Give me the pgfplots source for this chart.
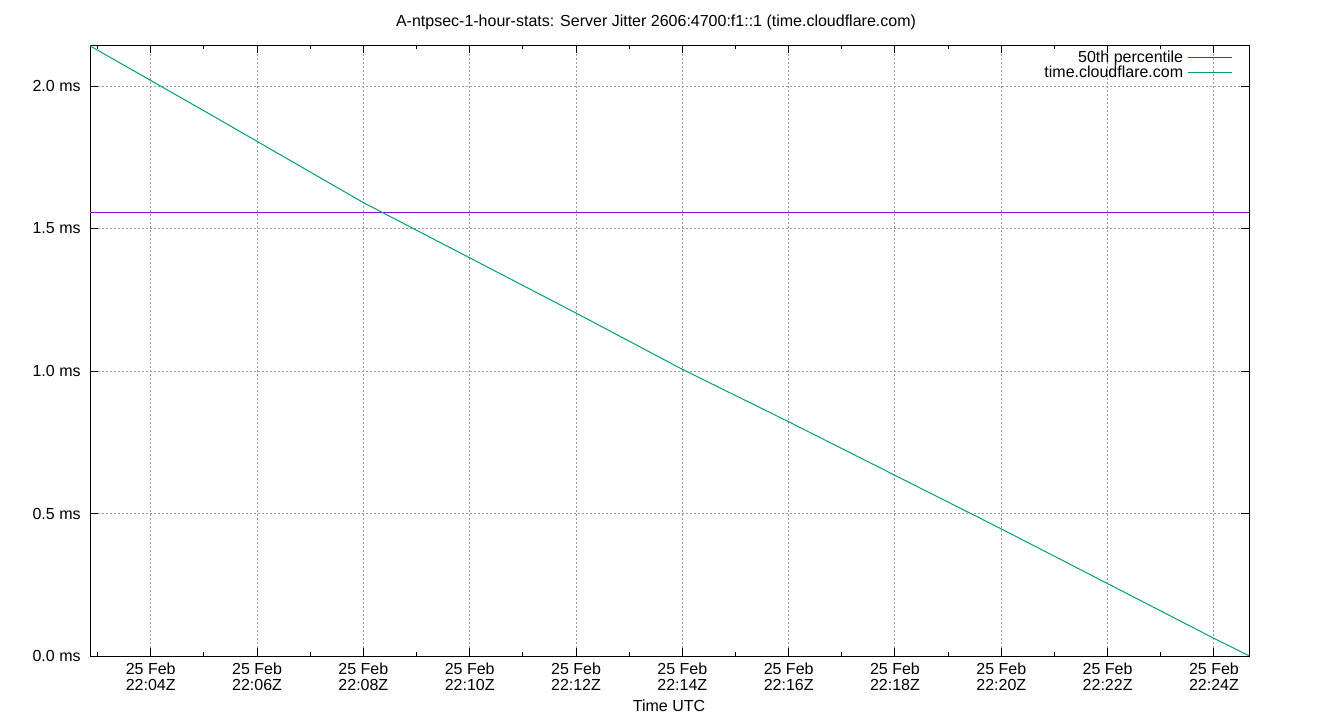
\documentclass[border=0pt]{standalone}
\usepackage{fontspec}
\setmainfont{Liberation Sans}
\usepackage{pgfplots}
\pgfplotsset{compat=1.18}
\definecolor{gpurple}{HTML}{9400D3}
\definecolor{ggreen}{HTML}{009E73}
\begin{document}
\fontsize{8}{8}\selectfont
\begin{tikzpicture}[x=0.5pt,y=0.5pt]
\path (0,0) rectangle (1340,720);
\begin{axis}[
  at={(45pt,32pt)}, anchor=south west,
  scale only axis, width=579.5pt, height=305.5pt,
  xmin=2.858, xmax=24.659, ymin=0, ymax=2.144,
  axis line style={line width=0.5pt, black},
  xtick={4,6,...,24},
  xticklabels={{25 Feb\\22:04Z},{25 Feb\\22:06Z},{25 Feb\\22:08Z},{25 Feb\\22:10Z},{25 Feb\\22:12Z},{25 Feb\\22:14Z},{25 Feb\\22:16Z},{25 Feb\\22:18Z},{25 Feb\\22:20Z},{25 Feb\\22:22Z},{25 Feb\\22:24Z}},
  minor xtick={3,5,...,23},
  ytick={0,0.5,1.0,1.5,2.0},
  yticklabels={0.0 ms,0.5 ms,1.0 ms,1.5 ms,2.0 ms},
  tick align=inside,
  major tick length=4pt, minor tick length=2pt,
  tick style={line width=0.5pt, black},
  xticklabel style={align=center, font=\fontsize{8}{8}\selectfont, inner sep=0pt, yshift=-3pt},
  yticklabel style={anchor=east, inner sep=0pt, xshift=-4.5pt, font=\fontsize{8}{8}\selectfont},
  grid=major,
  major grid style={color=black!40, dash pattern=on 1pt off 1pt, line width=0.5pt},
  minor grid style={draw=none},
  legend style={at={(rel axis cs:0.991,1.004)}, anchor=north east, draw=none, fill=none,
     legend cell align=right, row sep=-3.5pt, font=\fontsize{8}{8}\selectfont},
  legend plot pos=right,
  legend image code/.code={\draw[#1] (0pt,0pt) -- (22pt,0pt);},
]
\addplot[gpurple, line width=0.5pt] coordinates {(2.858,1.558) (24.659,1.558)};
\addlegendentry{50th percentile}
\addplot[ggreen, line width=0.5pt] coordinates {
(2.858,2.141) (3.987,2.021) (5.116,1.901) (8.0,1.591) (12.015,1.202) (14.0,1.006)
(16.0,0.822) (20.01,0.445) (24.0,0.062) (24.659,0.001)};
\addlegendentry{time.cloudflare.com}
\end{axis}
\node at (656,698) {A-ntpsec-1-hour-stats: Server Jitter 2606:4700:f1::1 (time.cloudflare.com)};
\node at (669,14) {Time UTC};
\end{tikzpicture}
\end{document}
